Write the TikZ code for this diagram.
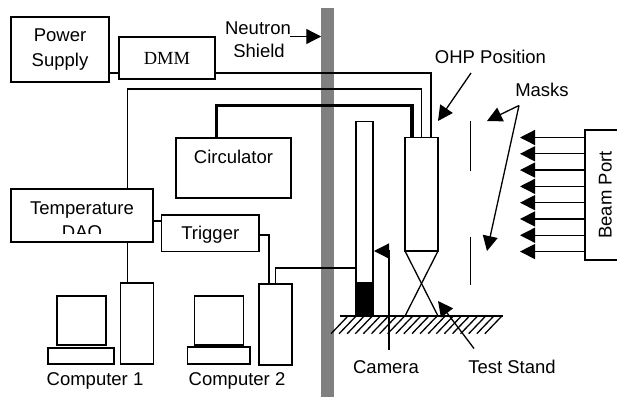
\documentclass[tikz,border=0pt]{standalone}
\usepackage{fontspec}
\setmainfont{Liberation Sans}
\newfontfamily\dmmfont{Liberation Serif}
\usetikzlibrary{arrows.meta}

\begin{document}
\begin{tikzpicture}[x=1pt,y=-1pt,node distance=100pt,line width=1.3pt,
		font=\fontsize{18.5}{25}\selectfont,
		box/.style={draw,rectangle,inner sep=0pt,outer sep=0pt,text height=13pt,text depth=0pt},
		lbl/.style={inner sep=0pt,outer sep=0pt,text height=13pt,text depth=0pt},
		tipline/.style={-{Triangle[length=15pt,width=15pt]}}]
	\useasboundingbox (0,0) rectangle (617,397);
	\node[fill=gray,inner sep=0pt,outer sep=0pt,minimum width=12.5pt,minimum height=389pt] (shieldbar) at (327.5,202.5) {};

	\node[draw,rectangle,inner sep=0pt,outer sep=0pt,align=center,minimum width=98pt,minimum height=65pt] (power) at (60,49.5) {Power\\Supply};
	\node[box,minimum width=96pt,minimum height=42pt,font=\fontsize{18.5}{25}\dmmfont] (dmm) [right of=power,xshift=7pt,yshift=-8.5pt] {DMM};
	\node[box,minimum width=115pt,minimum height=60pt,text depth=23pt] (circulator) [below of=dmm,xshift=66.5pt,yshift=-10pt] {Circulator};
	\node[box,minimum width=142pt,minimum height=53pt] (temp) [below of=power,xshift=22pt,yshift=-66pt] {};
	\node[box,minimum width=97.5pt,minimum height=36.5pt] (trigger) [right of=temp,xshift=28.25pt,yshift=-17.75pt] {Trigger};

	\node[box,minimum width=33pt,minimum height=81pt] (tower1) [below of=temp,xshift=55pt,yshift=-8pt] {};
	\node[box,minimum width=49pt,minimum height=49pt] (monitor1) [left of=tower1,xshift=44.5pt,yshift=3pt] {};
	\node[box,minimum width=66pt,minimum height=16pt] (base1) [below of=monitor1,xshift=-.5pt,yshift=64.5pt] {};
	\node[box,minimum width=33pt,minimum height=81pt] (tower2) [right of=tower1,xshift=38.5pt,yshift=-1pt] {};
	\node[box,minimum width=49pt,minimum height=49pt] (monitor2) [left of=tower2,xshift=43.5pt,yshift=4pt] {};
	\node[box,minimum width=62.5pt,minimum height=17pt] (base2) [below of=monitor2,xshift=-.25pt,yshift=65pt] {};
	\node[lbl] (comp1) [below of=base1,xshift=14pt,yshift=77.5pt] {Computer 1};
	\node[lbl] (comp2) [below of=base2,xshift=18.25pt,yshift=77pt] {Computer 2};

	\node[box,minimum width=17pt,minimum height=194.5pt] (camera) [right of=circulator,xshift=31pt,yshift=-50.75pt] {};
	\node[box,fill=black,minimum width=17pt,minimum height=33pt] (lens) [below of=camera,yshift=19.25pt] {};
	\node[box,minimum width=33pt,minimum height=113.5pt] (ohp) [right of=camera,xshift=-43pt,yshift=24.5pt] {};

	\node[lbl] (camlabel) [below of=camera,xshift=21.5pt,yshift=-48.25pt] {Camera};
	\node[lbl] (testlabel) [below of=ohp,xshift=90.5pt,yshift=-72.25pt] {Test Stand};
	\node[lbl] (ohplabel) [above of=ohp,xshift=69pt,yshift=37.25pt] {OHP Position};
	\node[lbl] (maskslabel) [right of=ohplabel,xshift=-48.5pt,yshift=-33pt] {Masks};

	\begin{scope}
		\clip (215,10) rectangle (300,56.5);
		\node[lbl] (neutron) [right of=dmm,xshift=-9pt,yshift=30.5pt] {Neutron};
		\node[lbl] (shield) [below of=neutron,xshift=1pt,yshift=76.5pt] {Shield};
	\end{scope}
	\begin{scope}
		\clip (12,190) rectangle (152,233.5);
		\node[lbl] (templabel) at ([yshift=8pt]temp.center) {Temperature};
		\node[lbl] (daqlabel) at ([yshift=-16pt]temp.center) {DAQ};
	\end{scope}

	\node[inner sep=0pt,outer sep=0pt,minimum width=32pt,minimum height=130pt] (beam) at (601,195) {};
	\node[lbl,rotate=90] (beamlabel) at ([xshift=4pt]beam.center) {Beam Port};
	\draw (beam.north east) -- (beam.north west) -- (beam.south west) -- (beam.south east);
	\foreach \i in {0,...,7}
		\draw[tipline] ([yshift=-7.5pt-\i*16.29pt]beam.north west) -- ++(-65,0);

	\coordinate (dmmout) at ([yshift=6pt]dmm.south east);
	\coordinate (tempup) at ([xshift=-25.5pt]temp.north east);
	\coordinate (camwire) at (356,268);
	\coordinate (nstart) at (290,36.5);
	\coordinate (camstart) at (389,350);
	\coordinate (camtip) at (374,251);
	\coordinate (teststart) at (474,348.5);
	\coordinate (testtip) at (438,301);
	\coordinate (ohpstart) at (471,73);
	\coordinate (ohptip) at (438,121);
	\coordinate (fork) at (519,105.5);
	\coordinate (masktip1) at (487,121);
	\coordinate (masktip2) at (487,251);
	\coordinate (mask1a) at (470.3,121);
	\coordinate (mask1b) at (470.3,171);
	\coordinate (mask2a) at (470.3,237);
	\coordinate (mask2b) at (470.3,285);
	\coordinate (groundl) at (339.5,316);
	\coordinate (groundr) at (503,316);
	\coordinate (wiretwo) at (tempup |- 0,89);
	\coordinate (wirethick) at ([xshift=-17pt]circulator.north |- 0,105.5);

	\draw (power.east |- dmmout) -- (dmm.west |- dmmout);
	\draw (dmmout) -| ([xshift=9.5pt]ohp.north);
	\draw[line width=1.1pt] (tempup) -- (wiretwo) -| (ohp.north);
	\draw[line width=3.5pt] (wirethick |- circulator.north) -- (wirethick) -| ([xshift=-9.5pt]ohp.north);
	\draw (temp.east |- 0,221) -- (trigger.west |- 0,221);
	\draw ([yshift=16.5pt]trigger.south east) -| ([xshift=-6.5pt]tower2.north);
	\draw (tempup |- temp.south) -- (tempup |- tower1.north);
	\draw (tower2.north) |- (camwire);

	\draw (ohp.south west) -- ([yshift=-65pt]ohp.south east);
	\draw (ohp.south east) -- ([yshift=-65pt]ohp.south west);
	\draw (groundl) -- (groundr);
	\foreach \i in {0,...,19}
		\draw ({348+\i*8.1},316) -- ++(-17,17.7);
	\draw (mask1a) -- (mask1b);
	\draw (mask2a) -- (mask2b);

	\draw[tipline] (nstart) -- (nstart -| shieldbar.west);
	\draw[tipline] (camstart) |- (camtip);
	\draw[tipline] (teststart) -- (testtip);
	\draw[tipline] (ohpstart) -- (ohptip);
	\draw[tipline] (fork) -- (masktip1);
	\draw[tipline] (fork) -- (masktip2);
\end{tikzpicture}
\end{document}
